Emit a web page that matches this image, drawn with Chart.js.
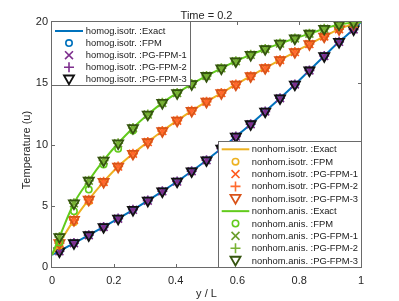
<!DOCTYPE html>
<html><head><meta charset="utf-8">
<script src="https://cdn.jsdelivr.net/npm/chart.js@4.4.1/dist/chart.umd.min.js"></script>
<style>html,body{margin:0;padding:0;background:#fff;}#wrap{width:399px;height:301px;}</style>
</head><body><div id="wrap"><canvas id="c" width="399" height="301"></canvas></div>
<script>
// ---- data ----
const xPos = [0.024,0.071,0.119,0.167,0.214,0.262,0.310,0.357,0.405,0.452,0.500,0.548,0.595,0.643,0.690,0.738,0.786,0.833,0.881,0.929,0.976];
const exactX = [0,0.024,0.071,0.119,0.167,0.214,0.262,0.310,0.357,0.405,0.452,0.500,0.548,0.595,0.643,0.690,0.738,0.786,0.833,0.881,0.929,0.976,1];
const homogExact = [1.0,1.28,1.95,2.6,3.27,3.95,4.67,5.42,6.18,6.98,7.82,8.72,9.67,10.65,11.66,12.7,13.78,14.9,16.05,17.22,18.38,19.4,20.0];
const homogFPM = [1.28,1.95,2.6,3.27,3.95,4.67,5.42,6.18,6.98,7.82,8.72,9.67,10.65,11.66,12.7,13.78,14.9,16.05,17.22,18.38,19.4];
const homogPG = [1.28,1.95,2.6,3.27,3.95,4.67,5.42,6.18,6.98,7.82,8.72,9.67,10.65,11.66,12.7,13.78,14.9,16.05,17.22,18.38,19.4];
const isoExact = [1.0,1.95,3.85,5.5,6.95,8.2,9.25,10.2,11.1,11.95,12.75,13.5,14.2,14.9,15.58,16.25,16.9,17.55,18.2,18.82,19.42,19.85,20.0];
const isoFPM = [1.75,3.65,5.35,6.9,8.2,9.25,10.2,11.1,11.95,12.75,13.5,14.2,14.9,15.58,16.25,16.9,17.55,18.2,18.82,19.42,19.85];
const isoPG = [1.95,3.85,5.5,6.95,8.2,9.25,10.2,11.1,11.95,12.75,13.5,14.2,14.9,15.58,16.25,16.9,17.55,18.2,18.82,19.42,19.85];
const anisExact = [1.0,2.45,5.2,7.05,8.7,10.1,11.35,12.45,13.4,14.2,14.93,15.6,16.22,16.8,17.32,17.8,18.24,18.66,19.05,19.45,19.8,19.95,20.0];
const anisFPM = [2.0,4.55,6.32,8.36,9.65,11.15,12.4,13.4,14.2,14.93,15.6,16.22,16.8,17.32,17.8,18.24,18.66,19.05,19.45,19.8,19.95];
const anisPG = [2.45,5.2,7.05,8.7,10.1,11.35,12.45,13.4,14.2,14.93,15.6,16.22,16.8,17.32,17.8,18.24,18.66,19.05,19.45,19.8,19.95];
const xTicks = [0,0.2,0.4,0.6,0.8,1];
const yTicks = [0,5,10,15,20];
const titleText = 'Time = 0.2';
const xLabel = 'y / L';
const yLabel = 'Temperature (u)';

// ---- styles ----
const FONT = '"Liberation Sans", Arial, Helvetica, sans-serif';
const TXT = '#262626';
const AXIS = '#6a6a6a';
const M = { circle:3.2, crossRot:5.6, cross:5, triangle:5.8 };

const defs = [
 {label:'homog.isotr. :Exact', kind:'line', color:'#0072BD', y:homogExact},
 {label:'homog.isotr. :FPM', kind:'circle', color:'#0072BD', y:homogFPM},
 {label:'homog.isotr. :PG-FPM-1', kind:'crossRot', color:'#7E2F8E', y:homogPG},
 {label:'homog.isotr. :PG-FPM-2', kind:'cross', color:'#7E2F8E', y:homogPG},
 {label:'homog.isotr. :PG-FPM-3', kind:'triangle', color:'#111111', y:homogPG},
 {label:'nonhom.isotr. :Exact', kind:'line', color:'#EDB120', y:isoExact},
 {label:'nonhom.isotr. :FPM', kind:'circle', color:'#EDB120', y:isoFPM},
 {label:'nonhom.isotr. :PG-FPM-1', kind:'crossRot', color:'#FF5A1F', y:isoPG},
 {label:'nonhom.isotr. :PG-FPM-2', kind:'cross', color:'#FF6A2E', y:isoPG},
 {label:'nonhom.isotr. :PG-FPM-3', kind:'triangle', color:'#D95319', y:isoPG},
 {label:'nonhom.anis. :Exact', kind:'line', color:'#62CB1C', y:anisExact},
 {label:'nonhom.anis. :FPM', kind:'circle', color:'#62CB1C', y:anisFPM},
 {label:'nonhom.anis. :PG-FPM-1', kind:'crossRot', color:'#6A9E2C', y:anisPG},
 {label:'nonhom.anis. :PG-FPM-2', kind:'cross', color:'#78B234', y:anisPG},
 {label:'nonhom.anis. :PG-FPM-3', kind:'triangle', color:'#35540F', y:anisPG}
];

const datasets = defs.map((d,k)=>{
  if (d.kind==='line') {
    return {label:d.label, data: exactX.map((x,i)=>({x, y:d.y[i]})), showLine:true,
      borderColor:d.color, borderWidth:2, pointRadius:0, cubicInterpolationMode:'monotone',
      order:100-k, fill:false};
  }
  return {label:d.label, data: xPos.map((x,i)=>({x, y:d.y[i]})), showLine:false,
    pointStyle:d.kind, pointRadius:M[d.kind], pointRotation: d.kind==='triangle'?180:0,
    pointBorderColor:d.color, pointBackgroundColor:'rgba(0,0,0,0)', pointBorderWidth: d.kind==='triangle'?1.8:1.6,
    borderColor:d.color, backgroundColor:'rgba(0,0,0,0)', order:100-k};
});

function drawMarker(ctx, kind, x, y, color){
  const r = M[kind];
  ctx.save(); ctx.strokeStyle=color; ctx.lineWidth = kind==='triangle'?1.8:1.6; ctx.beginPath();
  if (kind==='circle') ctx.arc(x,y,r,0,Math.PI*2);
  else if (kind==='crossRot'){const d=r*Math.SQRT1_2;ctx.moveTo(x-d,y-d);ctx.lineTo(x+d,y+d);ctx.moveTo(x-d,y+d);ctx.lineTo(x+d,y-d);}
  else if (kind==='cross'){ctx.moveTo(x-r,y);ctx.lineTo(x+r,y);ctx.moveTo(x,y-r);ctx.lineTo(x,y+r);}
  else if (kind==='triangle'){for(let k=0;k<3;k++){const a=Math.PI+k*2*Math.PI/3;const px=x+Math.sin(a)*r, py=y-Math.cos(a)*r;k?ctx.lineTo(px,py):ctx.moveTo(px,py);}ctx.closePath();}
  ctx.stroke(); ctx.restore();
}

function drawLegend(ctx, items, box, rowY0, rowStep, lineX0, lineX1, textX){
  ctx.save();
  ctx.fillStyle='#fff'; ctx.fillRect(box[0],box[1],box[2]-box[0],box[3]-box[1]);
  ctx.strokeStyle=AXIS; ctx.lineWidth=1; ctx.strokeRect(box[0],box[1],box[2]-box[0],box[3]-box[1]);
  ctx.font = '9.4px '+FONT; ctx.fillStyle='#1a1a1a'; ctx.textBaseline='middle'; ctx.textAlign='left';
  items.forEach((d,i)=>{
    const y = rowY0 + i*rowStep;
    if (d.kind==='line'){ctx.strokeStyle=d.color;ctx.lineWidth=2;ctx.beginPath();ctx.moveTo(lineX0,y);ctx.lineTo(lineX1,y);ctx.stroke();}
    else drawMarker(ctx,d.kind,(lineX0+lineX1)/2, y + (d.kind==='triangle'?-1:0), d.color);
    ctx.fillStyle='#1a1a1a'; ctx.fillText(d.label, textX, y+0.5);
  });
  ctx.restore();
}

const decor = {
  id:'decor',
  afterDatasetsDraw(chart){
    const {ctx, chartArea:a, scales:{x,y}} = chart;
    ctx.save();
    ctx.strokeStyle=AXIS; ctx.lineWidth=1;
    ctx.strokeRect(a.left-0.5, a.top-0.5, a.right-a.left+1, a.bottom-a.top+1);
    ctx.beginPath();
    xTicks.slice(1,-1).forEach(v=>{const p=Math.round(x.getPixelForValue(v))+0.5;ctx.moveTo(p,a.bottom);ctx.lineTo(p,a.bottom-3);ctx.moveTo(p,a.top);ctx.lineTo(p,a.top+3);});
    yTicks.slice(1,-1).forEach(v=>{const p=Math.round(y.getPixelForValue(v))+0.5;ctx.moveTo(a.left,p);ctx.lineTo(a.left+3,p);ctx.moveTo(a.right,p);ctx.lineTo(a.right-3,p);});
    ctx.stroke();
    ctx.restore();
    drawLegend(ctx, defs.slice(0,5), [a.left-0.5, a.top-0.5, 190.5, 85.5], 31, 12.1, 55, 83, 85.7);
    drawLegend(ctx, defs.slice(5), [218.5, 141.5, a.right+0.5, a.bottom+0.5], 149.3, 12.37, 221.7, 249.3, 251.7);
    // titles
    ctx.save();
    ctx.fillStyle=TXT; ctx.font='11px '+FONT; ctx.textAlign='center'; ctx.textBaseline='alphabetic';
    ctx.fillText(titleText, (a.left+a.right)/2, 18.5);
    ctx.fillText(xLabel, (a.left+a.right)/2, 297);
    ctx.translate(29.5, 150); ctx.rotate(-Math.PI/2);
    ctx.fillText(yLabel, 0, 0);
    ctx.restore();
  }
};

new Chart(document.getElementById('c'), {
  type:'scatter',
  data:{datasets},
  options:{
    responsive:false, animation:false, devicePixelRatio:1,
    layout:{padding:{left:0,top:22,right:38,bottom:0}},
    plugins:{legend:{display:false}, tooltip:{enabled:false}},
    scales:{
      x:{type:'linear', min:0, max:1, afterFit:s=>{s.height=34;},
         grid:{display:false, drawTicks:false}, border:{display:false},
         afterBuildTicks:s=>{s.ticks = xTicks.map(v=>({value:v}));},
         ticks:{padding:7, color:TXT, font:{family:FONT,size:11}, maxRotation:0, autoSkip:false,
           callback:v=>String(v)}},
      y:{type:'linear', min:0, max:20, afterFit:s=>{s.width=52;},
         grid:{display:false, drawTicks:false}, border:{display:false},
         afterBuildTicks:s=>{s.ticks = yTicks.map(v=>({value:v}));},
         ticks:{padding:4, color:TXT, font:{family:FONT,size:11}, autoSkip:false}}
    }
  },
  plugins:[decor]
});
</script></body></html>
